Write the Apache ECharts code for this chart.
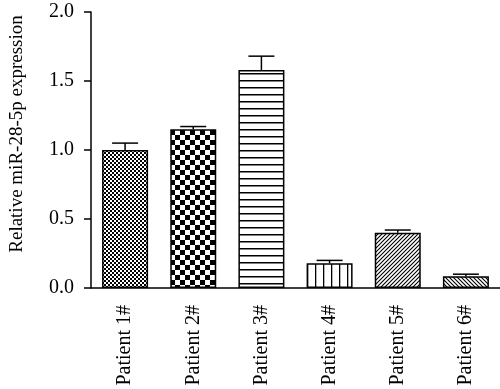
<!DOCTYPE html>
<html><head><meta charset="utf-8">
<script src="https://cdn.jsdelivr.net/npm/echarts@6/dist/echarts.min.js"></script>
<style>html,body{margin:0;padding:0;background:#fff}#c{width:500px;height:389px}</style>
</head><body><div id="c"></div>
<script>
const categories = ['Patient 1#','Patient 2#','Patient 3#','Patient 4#','Patient 5#','Patient 6#'];
const values = [1.00, 1.15, 1.58, 0.18, 0.40, 0.085];
const errors = [0.05, 0.02, 0.10, 0.02, 0.02, 0.015];
const yTicks = [0, 0.5, 1.0, 1.5, 2.0];

function pat(kind){
  const c = document.createElement('canvas');
  let s;
  const ctx = () => c.getContext('2d');
  if(kind==='fine'){ s=4; c.width=c.height=s; const g=ctx(); g.fillStyle='#fff'; g.fillRect(0,0,s,s); g.fillStyle='#000'; g.fillRect(0,0,2,2); g.fillRect(2,2,2,2); }
  else if(kind==='coarse'){ s=10; c.width=c.height=s; const g=ctx(); g.fillStyle='#fff'; g.fillRect(0,0,s,s); g.fillStyle='#000'; g.fillRect(0,0,5,5); g.fillRect(5,5,5,5); }
  else if(kind==='h'){ c.width=4; c.height=7; const g=ctx(); g.fillStyle='#fff'; g.fillRect(0,0,4,7); g.fillStyle='#000'; g.fillRect(0,3,4,1.5); }
  else if(kind==='v'){ c.width=8; c.height=4; const g=ctx(); g.fillStyle='#fff'; g.fillRect(0,0,8,4); g.fillStyle='#000'; g.fillRect(3,0,1.3,4); }
  else { s=8; c.width=c.height=s; const g=ctx(); g.fillStyle='#fff'; g.fillRect(0,0,s,s); g.strokeStyle='#000'; g.lineWidth=1.1;
    g.beginPath();
    if(kind==='d1'){ for(let k=-2;k<=2;k++){ g.moveTo(k*4-1, s+1); g.lineTo(k*4+s+1, -1); } }
    else { for(let k=-2;k<=2;k++){ g.moveTo(k*4-1, -1); g.lineTo(k*4+s+1, s+1); } }
    g.stroke(); }
  return {image:c, repeat:'repeat'};
}
const patterns = ['fine','coarse','h','v','d1','d2'].map(pat);

const chart = echarts.init(document.getElementById('c'), null, {renderer:'canvas'});
const font = 'Liberation Serif';
chart.setOption({
  animation:false,
  grid:{left:88, top:12, right:0, bottom:101},
  xAxis:{type:'category', data:categories,
    axisLine:{lineStyle:{color:'#000', width:1.5}},
    axisTick:{alignWithLabel:true, length:6, lineStyle:{color:'#000', width:1.5}},
    axisLabel:{rotate:90, margin:17, color:'#000', fontFamily:font, fontSize:20}
  },
  yAxis:{type:'value', min:0, max:2, interval:0.5,
    name:'Relative miR-28-5p expression', nameLocation:'middle', nameRotate:90, nameGap:64,
    nameTextStyle:{color:'#000', fontFamily:font, fontSize:19, padding:[0,0,0,32]},
    splitLine:{show:false},
    axisLine:{show:true, lineStyle:{color:'#000', width:1.5}},
    axisTick:{show:true, length:7, lineStyle:{color:'#000', width:1.5}},
    axisLabel:{color:'#000', fontFamily:font, fontSize:20, margin:17, formatter:v=>v.toFixed(1)}
  },
  series:[
    {type:'bar', barWidth:46, data:values.map((v,i)=>({value:v, itemStyle:{color:patterns[i]}})),
      itemStyle:{borderColor:'#000', borderWidth:1.5}},
    {type:'custom', data:values.map((v,i)=>[i,v,errors[i]]), z:5,
      renderItem:function(params, api){
        const i=api.value(0), v=api.value(1), e=api.value(2);
        const p0=api.coord([i,v]), p1=api.coord([i,v+e]);
        const hw=13;
        return {type:'group', children:[
          {type:'line', shape:{x1:p0[0],y1:p0[1],x2:p1[0],y2:p1[1]}, style:{stroke:'#000', lineWidth:1.5}},
          {type:'line', shape:{x1:p1[0]-hw,y1:p1[1],x2:p1[0]+hw,y2:p1[1]}, style:{stroke:'#000', lineWidth:1.5}}
        ]};
      }}
  ]
});
</script></body></html>
